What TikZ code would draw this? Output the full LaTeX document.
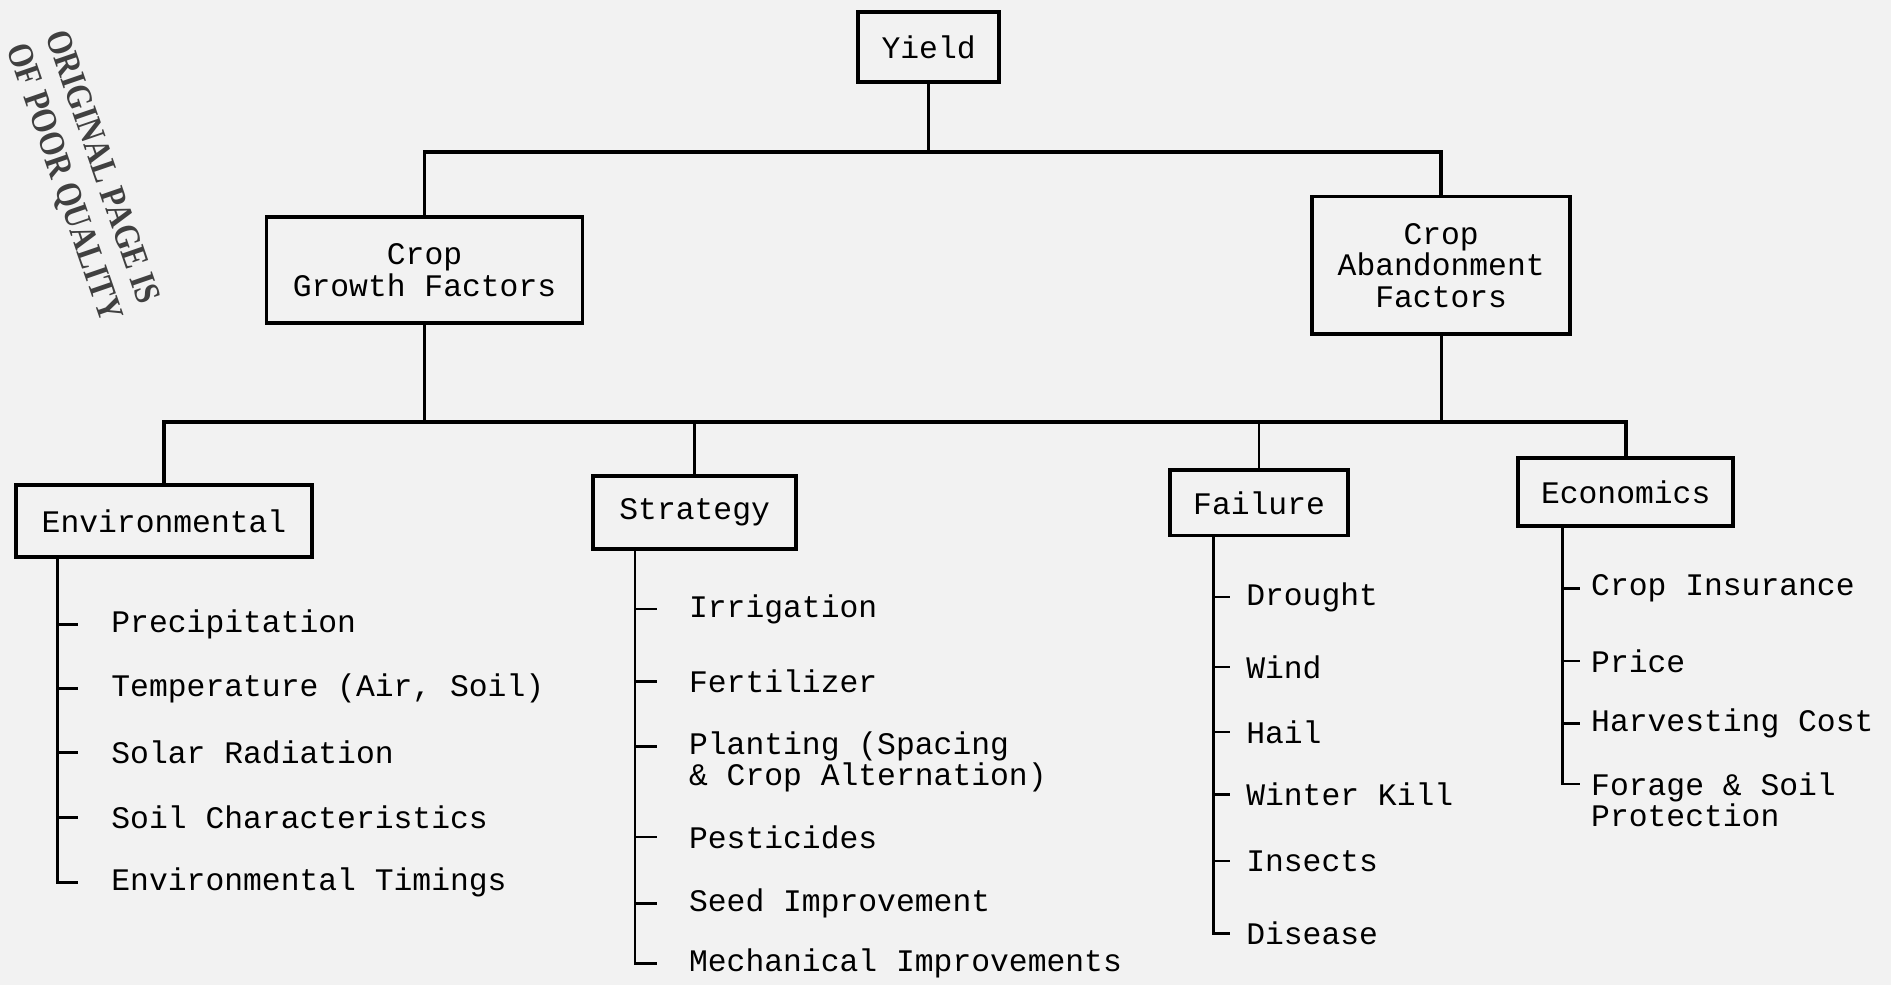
\documentclass[tikz,border=0pt]{standalone}
\usepackage{fontspec}
\newfontfamily\typer{Liberation Mono}
\newfontfamily\stampfont{Liberation Serif}

\begin{document}
\begin{tikzpicture}[x=0.5pt, y=-0.5pt,
    box/.style={draw, line width=1.6pt, align=center, inner sep=0pt, font=\typer\fontsize{13}{13}\selectfont},
    item/.style={anchor=west, align=left, inner ysep=0pt, inner xsep=#1, font=\typer\fontsize{13}{13}\selectfont},
    item/.default=7pt,
    link/.style={line width=1.1pt},
    bus/.style={line width=1.6pt},
    spine/.style={line width=1.1pt},
    stamp/.style={rotate=-71, xscale=0.85, align=left, inner sep=0pt, text=black!75, font=\stampfont\bfseries\fontsize{15}{17}\selectfont}]
        \fill[black!5] (0,0) rectangle (1568,817);
        \useasboundingbox (0,0) rectangle (1568,817);

        \node[stamp] (stamp) at (68,146) {ORIGINAL PAGE IS\\OF POOR QUALITY};

        \node[box, minimum width=58.5pt, minimum height=29pt]  (yield) at (770,39)   {Yield};
        \node[box, minimum width=131pt,  minimum height=44pt]  (cgf)   at (352,224)  {Crop\\Growth Factors};
        \node[box, minimum width=107pt,  minimum height=57pt]  (caf)   at (1195,220) {Crop\\Abandonment\\Factors};
        \node[box, minimum width=122.5pt,minimum height=30pt]  (env)   at (136,432)  {Environmental};
        \node[box, minimum width=84pt,   minimum height=30pt]  (str)   at (576,425)  {Strategy};
        \node[box, minimum width=74pt,   minimum height=27pt]  (fail)  at (1044,417) {Failure};
        \node[box, minimum width=89pt,   minimum height=28.5pt](eco)   at (1348,408) {Economics};

        \node[item=13.5pt] (e1) at (65,518) {Precipitation};
        \node[item=13.5pt] (e2) at (65,571) {Temperature (Air, Soil)};
        \node[item=13.5pt] (e3) at (65,624) {Solar Radiation};
        \node[item=13.5pt] (e4) at (65,678) {Soil Characteristics};
        \node[item=13.5pt] (e5) at (65,732) {Environmental Timings};

        \node[item=13pt] (s1) at (545,505) {Irrigation};
        \node[item=13pt] (s2) at (545,565) {Fertilizer};
        \node[item=13pt] (s3) at (545,632) {Planting (Spacing\\\& Crop Alternation)};
        \node[item=13pt] (s4) at (545,694) {Pesticides};
        \node[item=13pt] (s5) at (545,749) {Seed Improvement};
        \node[item=13pt] (s6) at (545,799) {Mechanical Improvements};

        \node[item=6.5pt] (f1) at (1020,495) {Drought};
        \node[item=6.5pt] (f2) at (1020,553) {Wind};
        \node[item=6.5pt] (f3) at (1020,607) {Hail};
        \node[item=6.5pt] (f4) at (1020,659) {Winter Kill};
        \node[item=6.5pt] (f5) at (1020,714) {Insects};
        \node[item=6.5pt] (f6) at (1020,774) {Disease};

        \node[item=4.5pt] (c1) at (1310,488) {Crop Insurance};
        \node[item=4.5pt] (c2) at (1310,548) {Price};
        \node[item=4.5pt] (c3) at (1310,600) {Harvesting Cost};
        \node[item=4.5pt] (c4) at (1310,663) {Forage \& Soil\\Protection};

        \coordinate (top) at (770,126);
        \coordinate (mid) at (352,350);
        \coordinate (es)  at ([xshift=18pt]env.south west);
        \coordinate (ss)  at ([xshift=18pt]str.south west);
        \coordinate (fs)  at ([xshift=19pt]fail.south west);
        \coordinate (cs)  at ([xshift=19pt]eco.south west);
        \coordinate (s3t) at ([yshift=6.5pt]s3.west);
        \coordinate (c4t) at ([yshift=6.5pt]c4.west);

        \draw[link] (yield) -- (top);
        \draw[bus]  (cgf) |- (top) -| (caf);
        \draw[link] (cgf) -- (mid);
        \draw[bus]  (env) |- (mid) -| (eco);
        \draw[link] (caf) -- (caf |- mid);
        \draw[link] (str) -- (str |- mid);
        \draw[link] (fail) -- (fail |- mid);

        \draw[spine] (es) |- (e5.west);
        \draw[spine] (ss) |- (s6.west);
        \draw[spine] (fs) |- (f6.west);
        \draw[spine] (cs) |- (c4t);
        \path[spine]
          (es |- e1.west) edge (e1.west)
          (es |- e2.west) edge (e2.west)
          (es |- e3.west) edge (e3.west)
          (es |- e4.west) edge (e4.west)
          (ss |- s1.west) edge (s1.west)
          (ss |- s2.west) edge (s2.west)
          (ss |- s3t)     edge (s3t)
          (ss |- s4.west) edge (s4.west)
          (ss |- s5.west) edge (s5.west)
          (fs |- f1.west) edge (f1.west)
          (fs |- f2.west) edge (f2.west)
          (fs |- f3.west) edge (f3.west)
          (fs |- f4.west) edge (f4.west)
          (fs |- f5.west) edge (f5.west)
          (cs |- c1.west) edge (c1.west)
          (cs |- c2.west) edge (c2.west)
          (cs |- c3.west) edge (c3.west)
          ;
\end{tikzpicture}
\end{document}
